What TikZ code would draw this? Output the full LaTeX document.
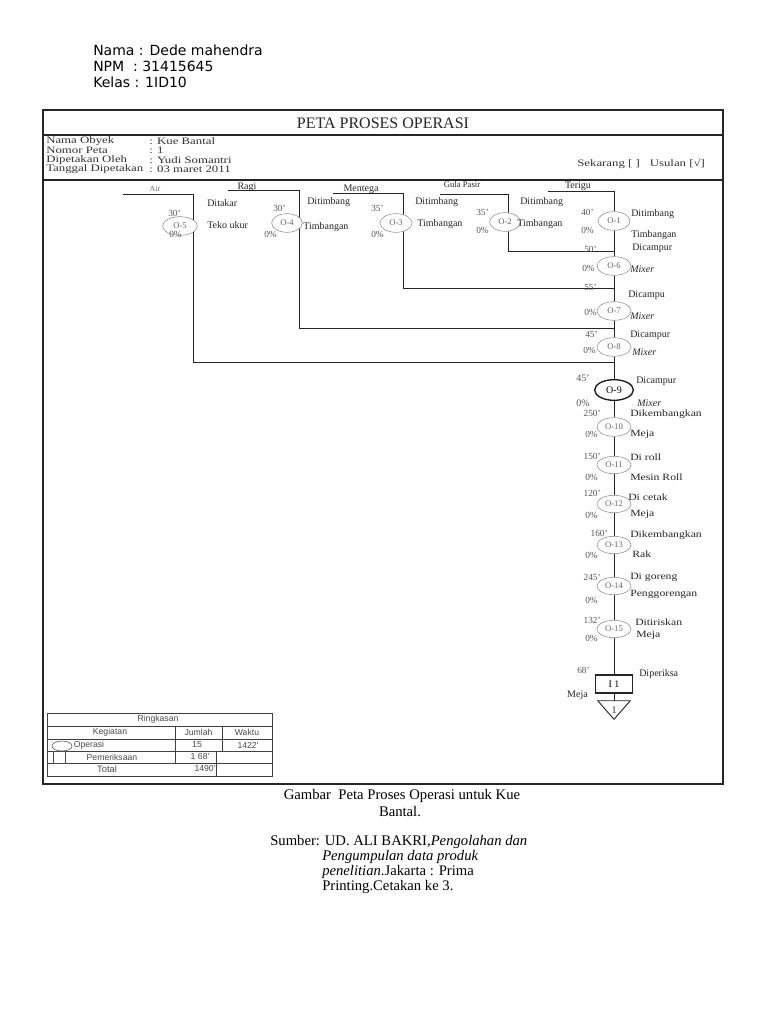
\documentclass[tikz,border=0pt]{standalone}
\usepackage{fontspec}
\setmainfont{Liberation Serif}
\newfontfamily\widef[FakeStretch=1.22]{Liberation Serif}
\newfontfamily\formf[FakeStretch=1.3]{Liberation Serif}
\newfontfamily\arialf{Liberation Sans}
\newfontfamily\dejavuf{DejaVu Sans}
\usetikzlibrary{positioning,shapes.geometric,backgrounds}

\begin{document}
\begin{tikzpicture}[
  x=0.75pt, y=-0.75pt,
  font=\fontsize{7.5}{8}\selectfont,
  flow/.style={line width=0.7pt, black!85},
  frame/.style={line width=1.1pt, black!85},
  grid/.style={line width=0.5pt, black!75},
  opr/.style={draw=black!45, fill=white, ellipse, inner sep=0pt, minimum width=25.5pt, minimum height=14pt, text=black!60, font=\fontsize{6.5}{7}\selectfont},
  insp/.style={draw=black!85, line width=0.8pt, fill=white, rectangle, inner sep=0pt, minimum width=28pt, minimum height=13.5pt},
  tm/.style={anchor=east, inner sep=0pt, text=black!65, font=\fontsize{7}{8}\selectfont},
  act/.style={anchor=west, inner sep=0pt, text=black!85},
  big/.style={font=\widef\fontsize{7.2}{8}\selectfont},
  raw/.style={inner sep=0pt, text=black!85},
  info/.style={anchor=west, inner sep=0pt, text=black!80, font=\formf\fontsize{7.4}{8}\selectfont},
  sumtxt/.style={inner sep=0pt, text=black!70, font=\arialf\fontsize{6.5}{7}\selectfont},
  captxt/.style={inner sep=0pt, font=\fontsize{11}{13}\selectfont}
]
\useasboundingbox (0,0) rectangle (768,1024);
\begin{scope}[on background layer]
\fill[white] (0,0) rectangle (768,1024);
\end{scope}

\node[anchor=west, inner sep=0pt, font=\dejavuf\fontsize{10.5}{12}\selectfont] (nama) at (93,50) {Nama : Dede mahendra};
\node[anchor=west, inner sep=0pt, font=\dejavuf\fontsize{10.5}{12}\selectfont] (npm) at (93,66) {NPM~~: 31415645};
\node[anchor=west, inner sep=0pt, font=\dejavuf\fontsize{10.5}{12}\selectfont] (kelas) at (93,82) {Kelas : 1ID10};

\draw[frame] (43,110) rectangle (723,784);
\draw[frame] (43,135) -- (723,135);
\draw[frame] (43,180) -- (723,180);
\node[raw, font=\fontsize{12}{14}\selectfont] (title) at (383,123) {PETA PROSES OPERASI};

\node[info] (k1) at (46,141) {Nama Obyek};
\node[info] (k2) at (46,150.5) {Nomor Peta};
\node[info] (k3) at (46,160) {Dipetakan Oleh};
\node[info] (k4) at (46,169.5) {Tanggal Dipetakan};
\node[info] (v1) at (149,141) {: Kue Bantal};
\node[info] (v2) at (149,150.5) {: 1};
\node[info] (v3) at (149,160) {: Yudi Somantri};
\node[info] (v4) at (149,169.5) {: 03 maret 2011};
\node[info] (versi) at (577,164) {Sekarang [ ]\quad Usulan [√]};

\coordinate (air) at (123,194);
\coordinate (c5) at (193,194);
\coordinate (ragi) at (228,190);
\coordinate (c4) at (299,190);
\coordinate (mentega) at (333,193);
\coordinate (c3) at (403,193);
\coordinate (gula) at (440,194);
\coordinate (c2) at (508,194);
\coordinate (terigu) at (548,191);
\coordinate (j6) at (614,251);
\coordinate (j7) at (614,288);
\coordinate (j8) at (614,328);
\coordinate (j9) at (614,362);

\node[raw, text=black!55, font=\fontsize{6}{7}\selectfont] (lair) at (155,189) {Air};
\node[raw] (lragi) at (247,187) {Ragi};
\node[raw] (lmentega) at (361,189) {Mentega};
\node[raw, font=\fontsize{6.5}{7}\selectfont] (lgula) at (462,185) {Gula Pasir};
\node[raw] (lterigu) at (578,186) {Terigu};

\node[opr, minimum width=26pt] (o5) at (180,226) {O-5};
\node[opr, minimum width=23pt] (o4) at (287,223) {O-4};
\node[opr, minimum width=24pt] (o3) at (396,223) {O-3};
\node[opr, minimum width=23pt] (o2) at (505,222) {O-2};
\node[opr, minimum width=24pt] (o1) at (614,221) {O-1};
\node[opr] (o6) at (614,266) {O-6};
\node[opr] (o7) at (614,311) {O-7};
\node[opr] (o8) at (614,347) {O-8};
\node[opr, draw=black!90, line width=1pt, minimum width=29pt, minimum height=15.5pt, text=black, font=\fontsize{7.5}{8}\selectfont] (o9) at (614,390) {O-9};
\node[opr] (o10) at (614,427) {O-10};
\node[opr, minimum height=13pt] (o11) at (614,465) {O-11};
\node[opr, minimum height=13pt] (o12) at (614,504) {O-12};
\node[opr, minimum height=13pt] (o13) at (614,545) {O-13};
\node[opr, minimum height=13pt] (o14) at (614,586) {O-14};
\node[opr, minimum height=13pt] (o15) at (614,629) {O-15};
\node[insp] (i1) at (614,684) {I 1};
\node[raw, minimum width=24pt, minimum height=13.5pt] (st) at (614,710) {1};
\draw[flow] (st.north west) -- (st.north east) -- (st.south) -- cycle;

\begin{scope}[on background layer]
\draw[flow] (air) -- (c5) |- (j9);
\draw[flow] (ragi) -- (c4) |- (j8);
\draw[flow] (mentega) -- (c3) |- (j7);
\draw[flow] (gula) -- (c2) |- (j6);
\end{scope}
\draw[flow] (terigu) -| (o1) -- (o6) -- (o7) -- (o8) -- (o9) -- (o10) -- (o11) -- (o12) -- (o13) -- (o14) -- (o15) -- (i1) -- (st);

\node[tm] (t5) at (181,213) {30'};
\node[tm] (p5) at (182,234) {0\%};
\node[act] (a5) at (207,203) {Ditakar};
\node[act] (b5) at (207,225) {Teko ukur};
\node[tm] (t4) at (286,208) {30'};
\node[tm] (p4) at (277,234) {0\%};
\node[act] (a4) at (307,202) {Ditimbang};
\node[act] (b4) at (303,227) {Timbangan};
\node[tm] (t3) at (384,208) {35'};
\node[tm] (p3) at (384,234) {0\%};
\node[act] (a3) at (415,202) {Ditimbang};
\node[act] (b3) at (417,224) {Timbangan};
\node[tm] (t2) at (489,212) {35'};
\node[tm] (p2) at (489,230) {0\%};
\node[act] (a2) at (520,202) {Ditimbang};
\node[act] (b2) at (517,224) {Timbangan};
\node[tm] (t1) at (594,212) {40'};
\node[tm] (p1) at (594,230) {0\%};
\node[act] (a1) at (631,214) {Ditimbang};
\node[act] (b1) at (631,235) {Timbangan};
\node[tm] (t6) at (597,249) {50'};
\node[tm] (p6) at (595,268) {0\%};
\node[act] (a6) at (632,248) {Dicampur};
\node[act] (b6) at (630,269) {\textit{Mixer}};
\node[tm] (t7) at (597,287) {55'};
\node[tm] (p7) at (597,312) {0\%};
\node[act] (a7) at (628,295) {Dicampu};
\node[act] (b7) at (630,316) {\textit{Mixer}};
\node[tm] (t8) at (598,334) {45'};
\node[tm] (p8) at (596,350) {0\%};
\node[act] (a8) at (630,335) {Dicampur};
\node[act] (b8) at (632,352) {\textit{Mixer}};
\node[tm, font=\fontsize{7.5}{8}\selectfont] (t9) at (590,378) {45'};
\node[tm, font=\fontsize{7.5}{8}\selectfont] (p9) at (590,403) {0\%};
\node[act] (a9) at (636,381) {Dicampur};
\node[act] (b9) at (637,403) {\textit{Mixer}};
\node[tm] (t10) at (601,413) {250'};
\node[tm] (p10) at (598,434) {0\%};
\node[act, big] (a10) at (630,414) {Dikembangkan};
\node[act, big] (b10) at (630,434) {Meja};
\node[tm] (t11) at (601,456) {150'};
\node[tm] (p11) at (598,477) {0\%};
\node[act, big] (a11) at (630,457) {Di roll};
\node[act, big] (b11) at (630,477) {Mesin Roll};
\node[tm] (t12) at (601,493) {120'};
\node[tm] (p12) at (598,515) {0\%};
\node[act, big] (a12) at (628,497) {Di cetak};
\node[act, big] (b12) at (630,514) {Meja};
\node[tm] (t13) at (608,533) {160'};
\node[tm] (p13) at (598,555) {0\%};
\node[act, big] (a13) at (630,535) {Dikembangkan};
\node[act, big] (b13) at (632,554) {Rak};
\node[tm] (t14) at (601,577) {245'};
\node[tm] (p14) at (598,600) {0\%};
\node[act, big] (a14) at (630,577) {Di goreng};
\node[act, big] (b14) at (630,594) {Penggorengan};
\node[tm] (t15) at (601,620) {132'};
\node[tm] (p15) at (598,638) {0\%};
\node[act, big] (a15) at (635,622) {Ditiriskan};
\node[act, big] (b15) at (636,635) {Meja};
\node[tm] (ti1) at (590,670) {68'};
\node[act] (ai1) at (639,674) {Diperiksa};
\node[tm, text=black!85, font=\fontsize{7.5}{8}\selectfont] (bi1) at (588,695) {Meja};

\draw[grid] (47,713) rectangle (272,776);
\draw[grid] (47,726) -- (272,726);
\draw[grid] (47,739) -- (272,739);
\draw[grid] (47,751) -- (272,751);
\draw[grid] (47,763) -- (272,763);
\draw[grid] (175,726) -- (175,763);
\draw[grid] (222,726) -- (222,751);
\draw[grid] (216,751) -- (216,776);
\node[sumtxt] (ringkasan) at (158,719.5) {Ringkasan};
\node[sumtxt] (hkeg) at (110,732.5) {Kegiatan};
\node[sumtxt] (hjml) at (198.5,732.5) {Jumlah};
\node[sumtxt] (hwkt) at (247,732.5) {Waktu};
\node[draw=black!70, ellipse, inner sep=0pt, minimum width=15pt, minimum height=7.5pt] (iop) at (62,746) {};
\node[sumtxt] (kop) at (89,745) {Operasi};
\node[sumtxt] (jop) at (197,745) {15};
\node[sumtxt] (wop) at (248,745) {1422'};
\node[draw=black!70, inner sep=0pt, minimum width=9pt, minimum height=9pt] (iin) at (59,757) {};
\node[sumtxt] (kin) at (112,757) {Pemeriksaan};
\node[sumtxt] (jin) at (200,757) {1 68'};
\node[sumtxt, font=\arialf\fontsize{7}{8}\selectfont] (ktot) at (107,769) {Total};
\node[sumtxt] (jtot) at (205,769) {1490'};

\node[captxt] (cap1) at (402,796) {Gambar~~Peta Proses Operasi untuk Kue};
\node[captxt] (cap2) at (400,812) {Bantal.};
\node[captxt, anchor=west] (src1) at (270,842) {Sumber: UD. ALI BAKRI,\textit{Pengolahan dan}};
\node[captxt, anchor=west] (src2) at (322,857) {\textit{Pengumpulan data produk}};
\node[captxt, anchor=west] (src3) at (322,872) {\textit{penelitian}.Jakarta : Prima};
\node[captxt, anchor=west] (src4) at (322,887) {Printing.Cetakan ke 3.};
\end{tikzpicture}
\end{document}
